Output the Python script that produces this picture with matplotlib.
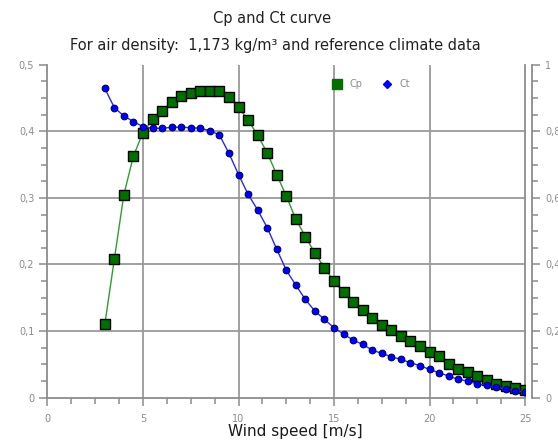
import matplotlib
matplotlib.use("Agg")
import matplotlib.pyplot as plt
from matplotlib.ticker import MultipleLocator, FuncFormatter
from matplotlib.lines import Line2D

# wind speed [m/s]
wind_speed = [3.0, 3.5, 4.0, 4.5, 5.0, 5.5, 6.0, 6.5, 7.0, 7.5, 8.0, 8.5, 9.0, 9.5,
              10.0, 10.5, 11.0, 11.5, 12.0, 12.5, 13.0, 13.5, 14.0, 14.5, 15.0, 15.5,
              16.0, 16.5, 17.0, 17.5, 18.0, 18.5, 19.0, 19.5, 20.0, 20.5, 21.0, 21.5,
              22.0, 22.5, 23.0, 23.5, 24.0, 24.5, 25.0]

cp = [0.110, 0.208, 0.305, 0.363, 0.398, 0.418, 0.431, 0.444, 0.453, 0.457, 0.461,
      0.461, 0.461, 0.452, 0.436, 0.417, 0.394, 0.368, 0.335, 0.303, 0.268, 0.242,
      0.217, 0.195, 0.175, 0.158, 0.144, 0.132, 0.119, 0.109, 0.101, 0.092, 0.085,
      0.078, 0.069, 0.062, 0.051, 0.043, 0.038, 0.032, 0.026, 0.021, 0.018, 0.015,
      0.012]

ct = [0.929, 0.871, 0.846, 0.829, 0.814, 0.809, 0.809, 0.812, 0.812, 0.811, 0.809,
      0.802, 0.789, 0.734, 0.670, 0.611, 0.564, 0.511, 0.446, 0.383, 0.338, 0.295,
      0.260, 0.235, 0.210, 0.191, 0.173, 0.160, 0.143, 0.133, 0.123, 0.115, 0.105,
      0.096, 0.085, 0.075, 0.065, 0.055, 0.050, 0.041, 0.037, 0.031, 0.026, 0.021,
      0.018]

title_lines = ["Cp and Ct curve",
               "For air density:  1,173 kg/m\u00b3 and reference climate data"]

GRAY = "#8c8c8c"
GRID = "#9a9a9a"


def comma_fmt(v, pos):
    return f"{v:g}".replace(".", ",")


fig = plt.figure(figsize=(5.58, 4.43), dpi=100)
ax = fig.add_axes([0.0851, 0.1023, 0.8558, 0.7517])
ax2 = ax.twinx()

ax.set_xlim(0, 25)
ax.set_ylim(0, 0.5)
ax2.set_ylim(0, 1)

# grid (no line at the top edge)
for v in [5, 10, 15, 20]:
    ax.axvline(v, color=GRID, lw=1.3, zorder=0)
for v in [0.1, 0.2, 0.3, 0.4]:
    ax.axhline(v, color=GRID, lw=1.3, zorder=0)

ax.plot(wind_speed, cp, color="#2ca02c", lw=1.0, marker="s", ms=7,
        mfc="#007000", mec="black", mew=1.0, zorder=3)
ax2.plot(wind_speed, ct, color="#2828ff", lw=1.0, marker="o", ms=4.8,
         mfc="#0000ff", mec="#000060", mew=0.8, zorder=3)

for a in (ax, ax2):
    a.spines["top"].set_visible(False)
    for s in a.spines.values():
        s.set_color(GRAY)
        s.set_linewidth(1.3)
ax.spines["right"].set_visible(True)
ax2.spines["left"].set_visible(False)
ax2.spines["bottom"].set_visible(False)
ax2.spines["right"].set_position(("outward", 5))

ax.xaxis.set_major_locator(MultipleLocator(5))
ax.xaxis.set_minor_locator(MultipleLocator(1.25))
ax.yaxis.set_major_locator(MultipleLocator(0.1))
ax.yaxis.set_minor_locator(MultipleLocator(0.025))
ax2.yaxis.set_major_locator(MultipleLocator(0.2))
ax2.yaxis.set_minor_locator(MultipleLocator(0.05))
ax.yaxis.set_major_formatter(FuncFormatter(comma_fmt))
ax2.yaxis.set_major_formatter(FuncFormatter(comma_fmt))

ax.tick_params(axis="both", which="both", colors=GRAY, labelcolor=GRAY,
               labelsize=7, direction="out", right=False)
ax.tick_params(which="major", length=6, width=1.1)
ax.tick_params(which="minor", length=4, width=1.1)
ax.tick_params(axis="x", pad=6)
ax2.tick_params(axis="y", which="both", colors=GRAY, labelcolor=GRAY,
                labelsize=7, direction="out")
ax2.tick_params(which="major", length=6, width=1.1)
ax2.tick_params(which="minor", length=4, width=1.1)

fig.text(0.53, 0.025, "Wind speed [m/s]", ha="center", va="center",
         fontsize=11, color="#1a1a1a")

fig.text(0.488, 0.958, title_lines[0], ha="center", va="center", fontsize=10.5,
         color="#222222")
fig.text(0.493, 0.898, title_lines[1], ha="center", va="center", fontsize=10.5,
         color="#222222")

handles = [
    Line2D([], [], ls="none", marker="s", ms=7, mfc="#007000", mec="#007000"),
    Line2D([], [], ls="none", marker="D", ms=4, mfc="#0000ff", mec="#0000ff"),
]
fig.legend(handles, ["Cp", "Ct"], loc="center left",
           bbox_to_anchor=(0.58, 0.81), ncol=2, frameon=False, fontsize=7,
           labelcolor=GRAY, handlelength=1.0, handletextpad=0.8,
           columnspacing=2.0)

fig.savefig("out.png", dpi=100)
